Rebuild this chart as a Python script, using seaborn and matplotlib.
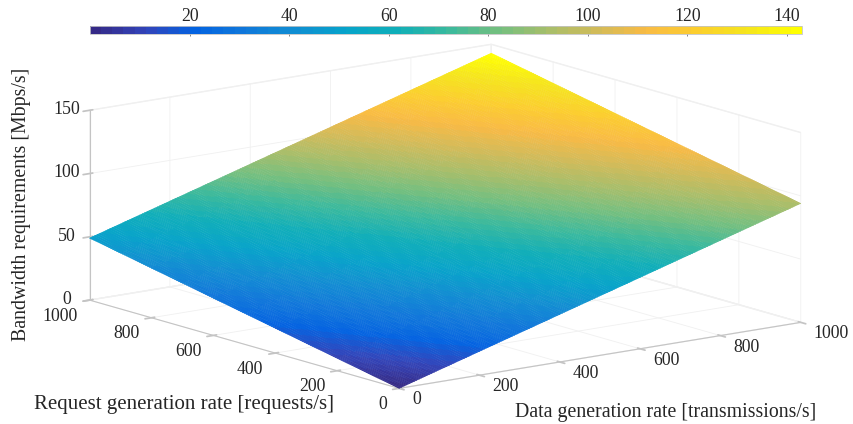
# Bandwidth surface, MATLAB style 3D view with a parula colour bar on top
import numpy as np
import seaborn as sns
import matplotlib.pyplot as plt
from matplotlib.tri import Triangulation, UniformTriRefiner

data_rate = [0, 100, 200, 300, 400, 500, 600, 700, 800, 900, 1000]
request_rate = [0, 100, 200, 300, 400, 500, 600, 700, 800, 900, 1000]

# rows follow request_rate, columns follow data_rate
bandwidth = [
    [0.0, 9.4, 18.8, 28.2, 37.6, 47.0, 56.4, 65.8, 75.2, 84.6, 94.0],
    [4.9, 14.3, 23.7, 33.1, 42.5, 51.9, 61.3, 70.7, 80.1, 89.5, 98.9],
    [9.8, 19.2, 28.6, 38.0, 47.4, 56.8, 66.2, 75.6, 85.0, 94.4, 103.8],
    [14.7, 24.1, 33.5, 42.9, 52.3, 61.7, 71.1, 80.5, 89.9, 99.3, 108.7],
    [19.6, 29.0, 38.4, 47.8, 57.2, 66.6, 76.0, 85.4, 94.8, 104.2, 113.6],
    [24.5, 33.9, 43.3, 52.7, 62.1, 71.5, 80.9, 90.3, 99.7, 109.1, 118.5],
    [29.4, 38.8, 48.2, 57.6, 67.0, 76.4, 85.8, 95.2, 104.6, 114.0, 123.4],
    [34.3, 43.7, 53.1, 62.5, 71.9, 81.3, 90.7, 100.1, 109.5, 118.9, 128.3],
    [39.2, 48.6, 58.0, 67.4, 76.8, 86.2, 95.6, 105.0, 114.4, 123.8, 133.2],
    [44.1, 53.5, 62.9, 72.3, 81.7, 91.1, 100.5, 109.9, 119.3, 128.7, 138.1],
    [49.0, 58.4, 67.8, 77.2, 86.6, 96.0, 105.4, 114.8, 124.2, 133.6, 143.0],
]

rate_ticks = [0, 200, 400, 600, 800, 1000]
z_ticks = [0, 50, 100, 150]
cbar_ticks = [20, 40, 60, 80, 100, 120, 140]

parula_anchors = [
    (0.208, 0.166, 0.529), (0.196, 0.264, 0.728), (0.012, 0.388, 0.882),
    (0.063, 0.474, 0.855), (0.064, 0.557, 0.824), (0.023, 0.642, 0.791),
    (0.059, 0.684, 0.725), (0.218, 0.725, 0.619), (0.442, 0.748, 0.503),
    (0.647, 0.746, 0.419), (0.819, 0.733, 0.350), (0.974, 0.731, 0.267),
    (0.988, 0.807, 0.179), (0.960, 0.895, 0.113), (1.0, 1.0, 0.0),
]

sns.set_theme(style="white", font="Liberation Serif")
plt.rcParams["font.family"] = ["Liberation Serif", "DejaVu Serif"]
text_color = "#262626"
axis_color = "#c4c4c4"
grid_color = "#f0f0f0"

parula = sns.blend_palette(parula_anchors, as_cmap=True).resampled(64)

fig = plt.figure(figsize=(8.54, 4.24), dpi=100)
side = 900
ax = fig.add_axes(
    [(433 - side / 2) / 854, (424 - 228.5 - side / 2) / 424, side / 854, side / 424],
    projection="3d",
)
ax.set_proj_type("ortho")
ax.view_init(elev=12.5, azim=-127.2)
ax.set_box_aspect((505, 512.7, 194.7), zoom=0.803)

# plane is shaded on a refined mesh of the table so the colour bands stay smooth
xx, yy = np.meshgrid(data_rate, request_rate)
tri = Triangulation(xx.ravel(), yy.ravel())
fine_tri, fine_z = UniformTriRefiner(tri).refine_field(
    np.array(bandwidth).ravel(), subdiv=4
)
surf = ax.plot_trisurf(
    fine_tri, fine_z, cmap=parula, vmin=0, vmax=143,
    linewidth=0.3, antialiased=True,
)
surf.set_edgecolor("face")

ax.set_xlim(0, 1000)
ax.set_ylim(0, 1000)
ax.set_zlim(0, 150)
ax.set_xticks(rate_ticks)
ax.set_yticks(rate_ticks)
ax.set_zticks(z_ticks)

for axis in (ax.xaxis, ax.yaxis, ax.zaxis):
    axis.set_pane_color((1, 1, 1, 1))
    axis.pane.set_edgecolor(grid_color)
    axis.line.set_color(axis_color)
    axis.line.set_linewidth(0.8)
    axis._axinfo["grid"].update(color=grid_color, linewidth=0.6)
ax.tick_params(labelsize=12.8, labelcolor=text_color, color=axis_color, width=0.8)
ax.tick_params(axis="x", pad=6)
ax.tick_params(axis="y", pad=2)
ax.tick_params(axis="z", pad=3)
ax.grid(True)

# MATLAB anchors the rate labels on the edge nearest the tick
for label in ax.get_xticklabels():
    label.set_ha("left")
    label.set_va("center")
for label in ax.get_yticklabels():
    label.set_ha("right")
for label in ax.get_zticklabels():
    label.set_va("center")

fig.text(22 / 854, 1 - 204 / 424, "Bandwidth requirements [Mbps/s]", rotation=90,
         ha="center", va="center", fontsize=14.3, color=text_color)
fig.text(184 / 854, 1 - 405 / 424, "Request generation rate [requests/s]",
         ha="center", va="center", fontsize=15, color=text_color)
fig.text(665.5 / 854, 1 - 412 / 424, "Data generation rate [transmissions/s]",
         ha="center", va="center", fontsize=14.3, color=text_color)

cax = fig.add_axes([90 / 854, 1 - 33.5 / 424, 712 / 854, 7.5 / 424])
cbar = fig.colorbar(surf, cax=cax, orientation="horizontal", ticks=cbar_ticks)
cbar.ax.xaxis.set_ticks_position("top")
cbar.ax.tick_params(direction="in", length=7, width=0.5, color="#555555",
                    labelsize=12.8, labelcolor=text_color, pad=1)
cbar.outline.set_edgecolor(axis_color)
cbar.outline.set_linewidth(0.6)

fig.savefig("out.png", dpi=100)
